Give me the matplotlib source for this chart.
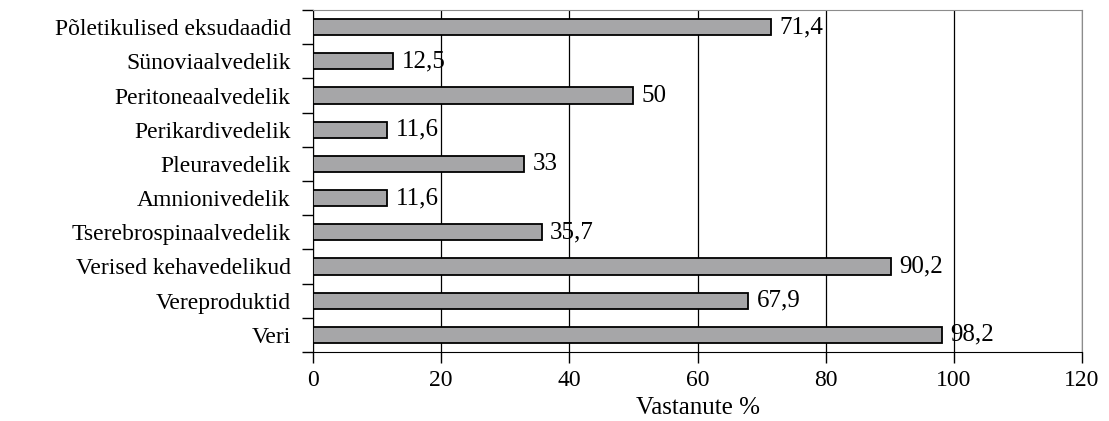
import matplotlib
matplotlib.use("Agg")
import matplotlib.pyplot as plt

# === andmed ===
categories = ["Veri", "Vereproduktid", "Verised kehavedelikud", "Tserebrospinaalvedelik",
              "Amnionivedelik", "Pleuravedelik", "Perikardivedelik", "Peritoneaalvedelik",
              "Sünoviaalvedelik", "Põletikulised eksudaadid"]
values = [98.2, 67.9, 90.2, 35.7, 11.6, 33, 11.6, 50, 12.5, 71.4]
labels = ["98,2", "67,9", "90,2", "35,7", "11,6", "33", "11,6", "50", "12,5", "71,4"]
xticks = [0, 20, 40, 60, 80, 100, 120]

plt.rcParams['font.family'] = ['Liberation Serif', 'DejaVu Serif']

fig = plt.figure(figsize=(11.09, 4.21), dpi=100)
ax = fig.add_axes([313 / 1109, 1 - 352 / 421, (1082 - 313) / 1109, (352 - 10) / 421])

y = list(range(len(categories)))
ax.barh(y, values, height=0.47, color='#a6a6a8', edgecolor='black', linewidth=1.3, zorder=3)
for yi, v, lab in zip(y, values, labels):
    ax.annotate(lab, (v, yi), xytext=(6, 0), textcoords='offset points',
                va='center', ha='left', fontsize=18, zorder=4)

ax.set_xlim(0, 120)
ax.set_ylim(-0.5, len(categories) - 0.5)
ax.set_xticks(xticks)
ax.set_xticklabels([str(t) for t in xticks], fontsize=17)
ax.tick_params(axis='x', length=8, direction='out', pad=5, width=1)

# kategooriate nimed keskel, kriipsud piiridel
ax.set_yticks(y)
ax.set_yticklabels(categories, fontsize=17)
ax.set_yticks([i - 0.5 for i in range(len(categories) + 1)], minor=True)
ax.tick_params(axis='y', which='major', length=0, pad=16)
ax.tick_params(axis='y', which='minor', length=8, direction='out', width=1)

ax.grid(axis='x', color='black', linewidth=0.9, zorder=0)
ax.set_axisbelow(True)
ax.spines['top'].set_color('#8c8c8c')
ax.spines['right'].set_color('#8c8c8c')
ax.spines['left'].set_color('black')
ax.spines['bottom'].set_color('black')

ax.set_xlabel("Vastanute %", fontsize=18, labelpad=4)

fig.savefig("out.png", dpi=100)
